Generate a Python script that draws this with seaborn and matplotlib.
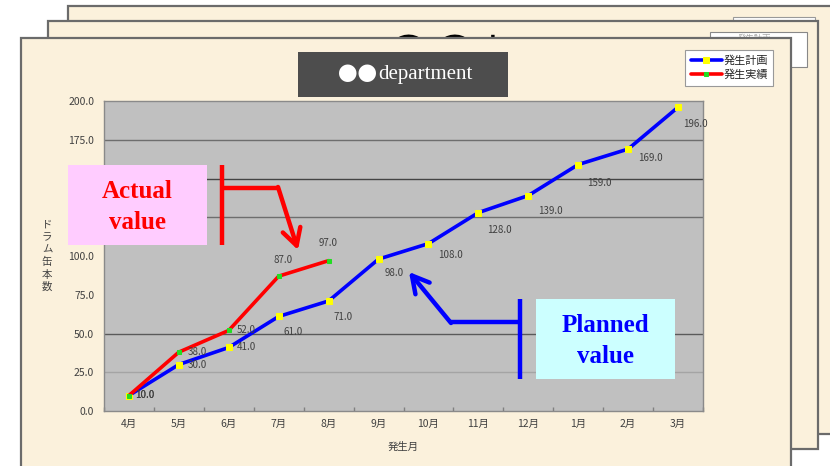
import numpy as np
import pandas as pd
import matplotlib
matplotlib.use('Agg')
import matplotlib.pyplot as plt
from matplotlib.patches import Rectangle
import seaborn as sns

# ---------------------------------------------------------
# Data
# ---------------------------------------------------------
months = ['4月', '5月', '6月', '7月', '8月', '9月', '10月', '11月', '12月', '1月', '2月', '3月']
plan_values = [10, 30, 41, 61, 71, 98, 108, 128, 139, 159, 169, 196]
actual_values = [10, 38, 52, 87, 97]
y_ticks = [0, 25, 50, 75, 100, 125, 150, 175, 200]
grid_levels = [25, 50, 125, 150, 175]
grid_colors = ['#a4a4a4', '#5a5a5a', '#6e6e6e', '#444444', '#6e6e6e']
series_names = ['発生計画', '発生実績']
x_title = '発生月'
y_title = 'ドラム缶本数'
sheet_title = '●●部'

# label offsets in pixels (dx right, dy down)
plan_offsets = [(6, 0), (9, 0), (8, 0), (5, 16), (5, 16), (6, 14),
                (10, 11), (9, 17), (10, 15), (9, 18), (10, 9), (5, 17)]
actual_offsets = [(6, 0), (9, 0), (8, 0), (-5, -16), (-10, -18)]

paper = '#fbf1dc'
edge = '#6b6b6b'
serif = ['Liberation Serif', 'DejaVu Serif']

sns.set_theme(style='white')
plt.rcParams['font.family'] = ['Noto Sans CJK JP', 'DejaVu Sans']

W, H = 830, 466
fig = plt.figure(figsize=(W / 100, H / 100), dpi=100)
fig.patch.set_facecolor('white')

# ---------------------------------------------------------
# Background: stacked sheets (pixel coordinates)
# ---------------------------------------------------------
bg = fig.add_axes([0, 0, 1, 1], zorder=0)
bg.set_xlim(0, W)
bg.set_ylim(H, 0)
bg.axis('off')

# sheet 3 (back)
bg.add_patch(Rectangle((68, 6), 800, 428, facecolor=paper, edgecolor=edge, lw=1.6, zorder=1))
bg.text(396, 22, sheet_title, fontsize=34, va='top', ha='left', color='black', zorder=1.5)
bg.add_patch(Rectangle((733, 17), 82, 33, facecolor='white', edgecolor='#999999', lw=0.8, zorder=1.6))
# sheet 2
bg.add_patch(Rectangle((48, 21), 770, 428, facecolor=paper, edgecolor=edge, lw=1.6, zorder=2))
bg.text(385, 36, sheet_title, fontsize=34, va='top', ha='left', color='black', zorder=2.5)
bg.add_patch(Rectangle((710, 32), 97, 35, facecolor='white', edgecolor='#888888', lw=0.8, zorder=2.6))
bg.plot([716, 736], [38, 38], color='#9999ff', lw=1.5, zorder=2.7)
bg.text(738, 38, series_names[0], fontsize=6, color='#aaaaaa', va='center', zorder=2.7)
# sheet 1 (front)
bg.add_patch(Rectangle((21, 38), 770, 440, facecolor=paper, edgecolor=edge, lw=1.6, zorder=3))
bg.add_patch(Rectangle((298, 52), 210, 45, facecolor='#4d4d4d', edgecolor='none', zorder=3.5))
bg.text(377, 75, '●●', fontsize=14, color='white', ha='right', va='center', zorder=3.6)
bg.text(378, 75, 'department', fontsize=15, color='white', ha='left', va='center',
        family=serif, zorder=3.6)

# ---------------------------------------------------------
# Chart
# ---------------------------------------------------------
ax = fig.add_axes([104 / W, (H - 411) / H, 599 / W, 310 / H], zorder=1)
ax.set_facecolor('#c0c0c0')

plan_df = pd.DataFrame({'pos': np.arange(len(months)), 'value': plan_values})
actual_df = pd.DataFrame({'pos': np.arange(len(actual_values)), 'value': actual_values})

for lvl, col in zip(grid_levels, grid_colors):
    ax.axhline(lvl, color=col, lw=1.0, zorder=1)

sns.lineplot(data=plan_df, x='pos', y='value', ax=ax, sort=False, color='#0000ff', lw=2.6,
             marker='s', markersize=4.5, markerfacecolor='#ffff00', markeredgecolor='#ffff00',
             label=series_names[0], zorder=3)
sns.lineplot(data=actual_df, x='pos', y='value', ax=ax, sort=False, color='#ff0000', lw=2.6,
             marker='s', markersize=3.5, markerfacecolor='#22dd22', markeredgecolor='#22dd22',
             label=series_names[1], zorder=4)

label_style = dict(textcoords='offset pixels', ha='left', va='center', fontsize=7, color='#404040', zorder=5)
for i, v in enumerate(plan_values):
    dx, dy = plan_offsets[i]
    ax.annotate(f'{v:.1f}', xy=(i, v), xytext=(dx, -dy), **label_style)
for i, v in enumerate(actual_values):
    dx, dy = actual_offsets[i]
    ax.annotate(f'{v:.1f}', xy=(i, v), xytext=(dx, -dy), **label_style)

ax.set_xlim(-0.5, len(months) - 0.5)
ax.set_ylim(y_ticks[0], y_ticks[-1])
ax.set_xticks(np.arange(len(months)))
ax.set_xticklabels(months)
ax.set_xticks(np.arange(len(months) + 1) - 0.5, minor=True)
ax.set_yticks(y_ticks)
ax.set_yticklabels([f'{v:.1f}' for v in y_ticks])
ax.tick_params(axis='x', which='major', length=0, pad=6, labelsize=7.5, labelcolor='#404040')
ax.tick_params(axis='x', which='minor', length=3, direction='in', color='#808080', bottom=True)
ax.tick_params(axis='y', length=0, pad=7, labelsize=7.5, labelcolor='#404040')
for s in ax.spines.values():
    s.set_color('#8a8a8a')
    s.set_linewidth(1.0)

ax.set_xlabel(x_title, fontsize=7.5, color='#404040', labelpad=9)
ax.set_ylabel('\n'.join(y_title), rotation=0, fontsize=7.5, color='#404040',
              linespacing=1.3, ha='center', va='center')
ax.yaxis.set_label_coords((47 - 104) / 599, 0.5)

leg = ax.legend(loc='upper left', bbox_to_anchor=(685 / W, 1 - 50 / H), bbox_transform=fig.transFigure,
                borderaxespad=0, fontsize=8, handlelength=2.8, handletextpad=0.15, labelspacing=0.3,
                borderpad=0.5, fancybox=False, framealpha=1, edgecolor='#999999')
leg.get_frame().set_linewidth(0.8)

# ---------------------------------------------------------
# Callouts overlay
# ---------------------------------------------------------
ov = fig.add_axes([0, 0, 1, 1], zorder=3)
ov.set_xlim(0, W)
ov.set_ylim(H, 0)
ov.axis('off')

ov.add_patch(Rectangle((68, 165), 139, 80, facecolor='#ffccff', edgecolor='none'))
ov.text(137.5, 207, 'Actual\nvalue', color='#ff0000', fontsize=18, fontweight='bold',
        ha='center', va='center', linespacing=1.4, family=serif)
ov.plot([222, 222], [165, 245], color='#ff0000', lw=3.2, solid_capstyle='butt')
ov.plot([222, 279], [188, 188], color='#ff0000', lw=3.2, solid_capstyle='butt')
ov.annotate('', xy=(298, 250), xytext=(278, 187),
            arrowprops=dict(arrowstyle='->,head_length=1.0,head_width=0.55', lw=3.2, color='#ff0000',
                            shrinkA=0, shrinkB=0))

ov.add_patch(Rectangle((536, 299), 139, 80, facecolor='#ccffff', edgecolor='none'))
ov.text(605.5, 341, 'Planned\nvalue', color='#0000ff', fontsize=18, fontweight='bold',
        ha='center', va='center', linespacing=1.4, family=serif)
ov.plot([520, 520], [299, 379], color='#0000ff', lw=3.2, solid_capstyle='butt')
ov.plot([520, 450], [322, 322], color='#0000ff', lw=3.2, solid_capstyle='butt')
ov.annotate('', xy=(409, 272), xytext=(451, 323),
            arrowprops=dict(arrowstyle='->,head_length=1.0,head_width=0.55', lw=3.2, color='#0000ff',
                            shrinkA=0, shrinkB=0))

fig.savefig('out.png', dpi=100)
